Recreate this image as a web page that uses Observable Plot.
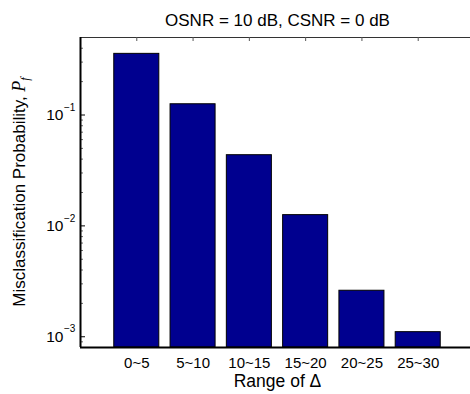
<!DOCTYPE html>
<html>
<head>
<meta charset="utf-8">
<script src="https://cdn.jsdelivr.net/npm/d3@7"></script>
<script src="https://cdn.jsdelivr.net/npm/@observablehq/plot@0.6"></script>
<style>
  html, body { margin: 0; padding: 0; background: #fff; overflow: hidden; }
</style>
</head>
<body>
<div id="chart"></div>
<script>
// Misclassification probability per range of Δ
const categories = ["0~5", "5~10", "10~15", "15~20", "20~25", "25~30"];
const probabilities = [0.356, 0.125, 0.0434, 0.0125, 0.0026, 0.0011];
const yDomain = [0.0008, 0.5];
const decadeTicks = [1e-1, 1e-2, 1e-3];
const minorTicks = [
  2e-1, 3e-1, 4e-1,
  2e-2, 3e-2, 4e-2, 5e-2, 6e-2, 7e-2, 8e-2, 9e-2,
  2e-3, 3e-3, 4e-3, 5e-3, 6e-3, 7e-3, 8e-3, 9e-3,
  9e-4
];
const titleText = "OSNR = 10 dB, CSNR = 0 dB";
const xLabel = "Range of Δ";

const bars = categories.map((c, i) => ({category: c, pos: i + 1, value: probabilities[i]}));
const positions = bars.map(d => d.pos);
const font = "Liberation Sans, Arial, Helvetica, sans-serif";

const chart = Plot.plot({
  width: 470,
  height: 394,
  marginLeft: 80,
  marginRight: -4,
  marginTop: 37,
  marginBottom: 47,
  x: {type: "linear", domain: [0, 7], axis: null},
  y: {type: "log", domain: yDomain, axis: null},
  style: {fontFamily: font, background: "#fff", color: "#000"},
  marks: [
    Plot.rect(bars, {
      x1: d => d.pos - 0.4, x2: d => d.pos + 0.4,
      y1: yDomain[0], y2: "value",
      fill: "#00008f", stroke: "#000", strokeWidth: 1
    }),
    // frame: heavy left/bottom, light top
    Plot.ruleY([yDomain[1]], {stroke: "#333", strokeWidth: 1}),
    Plot.ruleX(positions, {insetBottom: 306, stroke: "#555"}),
    Plot.ruleY(minorTicks, {insetRight: 391, stroke: "#666"}),
    Plot.ruleY(decadeTicks, {insetRight: 389, stroke: "#000"}),
    Plot.ruleX([0], {stroke: "#000", strokeWidth: 2}),
    Plot.ruleY([yDomain[0]], {stroke: "#000", strokeWidth: 2}),
    // y tick labels 10^n
    Plot.text(decadeTicks, {
      y: d => d, text: () => "10", frameAnchor: "left",
      dx: -17, textAnchor: "end", lineAnchor: "middle", fontSize: 15.5
    }),
    Plot.text(decadeTicks, {
      y: d => d, text: d => "\u2212" + Math.round(-Math.log10(d)), frameAnchor: "left",
      dx: -16.5, dy: -7.5, textAnchor: "start", lineAnchor: "middle", fontSize: 10
    }),
    // x tick labels
    Plot.text(bars, {
      x: "pos", text: "category", frameAnchor: "bottom",
      dy: 9.5, lineAnchor: "top", fontSize: 15
    }),
    Plot.text([xLabel], {
      text: d => d, frameAnchor: "bottom", dy: 27.5, lineAnchor: "top", fontSize: 17.5
    }),
    Plot.text([titleText], {
      text: d => d, frameAnchor: "top", dy: -23.5, lineAnchor: "top", fontSize: 17
    })
  ]
});

// y axis title with italic P and subscript f
const svg = d3.select(chart);
const label = svg.append("text")
  .attr("transform", "translate(25,192) rotate(-90)")
  .attr("text-anchor", "middle")
  .attr("font-family", font)
  .attr("font-size", 17)
  .attr("fill", "#000");
label.append("tspan").text("Misclassification Probability, ");
label.append("tspan").attr("font-family", "Liberation Serif").attr("font-style", "italic").attr("font-size", 18).text("P");
label.append("tspan").attr("font-family", "Liberation Serif").attr("font-style", "italic").attr("font-size", 12).attr("dy", 4).text("f");

document.getElementById("chart").append(chart);
</script>
</body>
</html>
